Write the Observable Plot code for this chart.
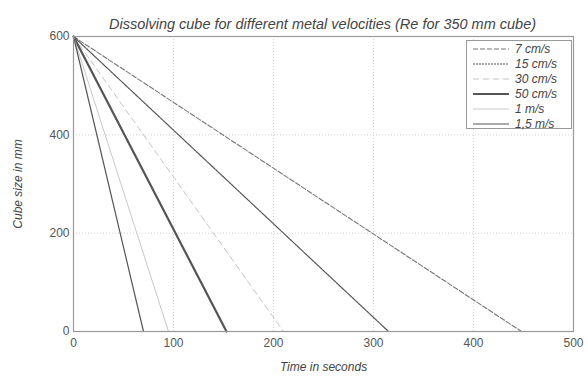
<!DOCTYPE html>
<html><head><meta charset="utf-8">
<script src="https://cdn.jsdelivr.net/npm/d3@7"></script>
<script src="https://cdn.jsdelivr.net/npm/@observablehq/plot@0.6"></script>
<style>
body{margin:0;background:#fff;font-family:"Liberation Sans",Arial,sans-serif;}
#wrap{position:relative;width:588px;height:376px;}
#legend{position:absolute;left:466px;top:40px;width:106px;height:89px;border:1px solid #999;background:#fff;box-sizing:border-box;font-style:italic;font-size:12px;color:#444;}
#legend div{display:flex;align-items:center;height:15px;}
#legend svg{margin-left:6px;margin-right:6px;}
</style></head>
<body><div id="wrap"><div id="chart"></div><div id="legend"></div></div>
<script>
const title = "Dissolving cube for different metal velocities (Re for 350 mm cube)";
const xLabel = "Time in seconds";
const yLabel = "Cube size in mm";
const seriesNames = ["7 cm/s","15 cm/s","30 cm/s","50 cm/s","1 m/s","1,5 m/s"];
const startSize = 600;
const dissolveTimes = [448, 315, 210, 153, 95, 70];
const xTicks = [0,100,200,300,400,500];
const yTicks = [0,200,400,600];
const styles = [
  {stroke:"#777", strokeWidth:1.1, dash:"5,2"},
  {stroke:"#555", strokeWidth:1.2, dash:"2,1"},
  {stroke:"#c4c4c4", strokeWidth:1, dash:"6,4"},
  {stroke:"#555", strokeWidth:2.2, dash:null},
  {stroke:"#c8c8c8", strokeWidth:1, dash:null},
  {stroke:"#555", strokeWidth:1.2, dash:null}
];
const lineMarks = seriesNames.map((name,i) => Plot.line(
  [{t:0,s:startSize},{t:dissolveTimes[i],s:0}],
  {x:"t", y:"s", stroke:styles[i].stroke, strokeWidth:styles[i].strokeWidth, strokeDasharray:styles[i].dash||undefined}
));
const chart = Plot.plot({
  width:588, height:376,
  marginLeft:73, marginRight:15, marginTop:36, marginBottom:45,
  style:{fontFamily:"'Liberation Sans', Arial, sans-serif", fontSize:"12px", color:"#555", background:"#fff"},
  x:{domain:[0,500], ticks:xTicks},
  y:{domain:[0,600], ticks:yTicks},
  marks:[
    Plot.gridX(xTicks.slice(1,-1), {stroke:"#d4d4d4", strokeOpacity:1, strokeDasharray:"1,2"}),
    Plot.gridY(yTicks.slice(1,-1), {stroke:"#d4d4d4", strokeOpacity:1, strokeDasharray:"1,2"}),
    Plot.axisX(xTicks, {tickSize:0, tickPadding:7, label:null, fontSize:12, fill:"#555"}),
    Plot.axisY(yTicks, {tickSize:0, tickPadding:4, label:null, fontSize:12, fill:"#555"}),
    ...lineMarks,
    Plot.frame({stroke:"#999", strokeWidth:1.2}),
    Plot.text([title], {frameAnchor:"top", dy:-18, dx:-1, fontStyle:"italic", fontSize:14.5, fill:"#444"}),
    Plot.text([xLabel], {frameAnchor:"bottom", dy:39, fontStyle:"italic", fontSize:12, fill:"#444"}),
    Plot.text([yLabel], {frameAnchor:"left", dx:-55, rotate:-90, textAnchor:"middle", fontStyle:"italic", fontSize:12, fill:"#444"})
  ]
});
document.getElementById("chart").appendChild(chart);
const leg = document.getElementById("legend");
seriesNames.forEach((name,i) => {
  const row = document.createElement("div");
  const st = styles[i];
  row.innerHTML = `<svg width="36" height="6"><line x1="0" y1="3" x2="36" y2="3" stroke="${st.stroke}" stroke-width="${st.strokeWidth}" ${st.dash?`stroke-dasharray="${st.dash}"`:""}/></svg><span>${name}</span>`;
  leg.appendChild(row);
});
</script></body></html>
